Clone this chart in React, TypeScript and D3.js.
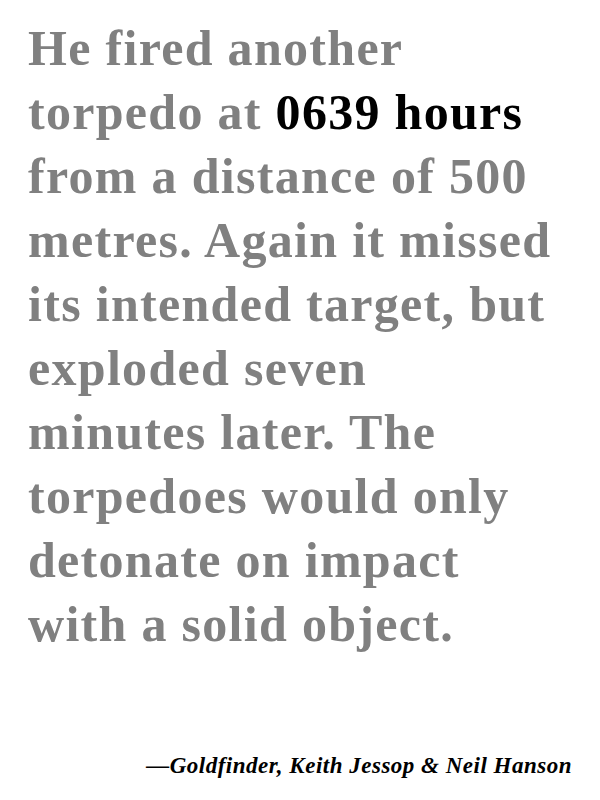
import React from 'react';
import * as d3 from 'd3';

// each line is a list of [text, highlighted] pieces
const lines: [string, boolean][][] = [
  [['He fired another', false]],
  [['torpedo at ', false], ['0639 hours', true]],
  [['from a distance of 500', false]],
  [['metres. Again it missed', false]],
  [['its intended target, but', false]],
  [['exploded seven', false]],
  [['minutes later. The', false]],
  [['torpedoes would only', false]],
  [['detonate on impact', false]],
  [['with a solid object.', false]],
];
const attribution = '—Goldfinder, Keith Jessop & Neil Hanson';

const App: React.FC = () => {
  const width = 600;
  const height = 800;

  // baseline positions for each line
  const y = d3
    .scaleLinear()
    .domain([0, lines.length - 1])
    .range([65, 641]);

  return (
    <svg
      width={width}
      height={height}
      style={{ position: 'absolute', left: 0, top: 0, background: '#fff' }}
    >
      {lines.map((parts, i) => (
        <text
          key={i}
          x={28}
          y={y(i)}
          fontFamily="'Liberation Serif', 'DejaVu Serif', serif"
          fontWeight="bold"
          fontSize={50}
          letterSpacing={1.3}
          fill="#808080"
        >
          {parts.map(([t, hi], j) => (
            <tspan key={j} fill={hi ? '#000' : '#808080'}>
              {t}
            </tspan>
          ))}
        </text>
      ))}
      <text
        x={572}
        y={773}
        textAnchor="end"
        fontFamily="'Liberation Serif', 'DejaVu Serif', serif"
        fontWeight="bold"
        fontStyle="italic"
        fontSize={23}
        letterSpacing={0.5}
        fill="#000"
      >
        {attribution}
      </text>
    </svg>
  );
};

export default App;
